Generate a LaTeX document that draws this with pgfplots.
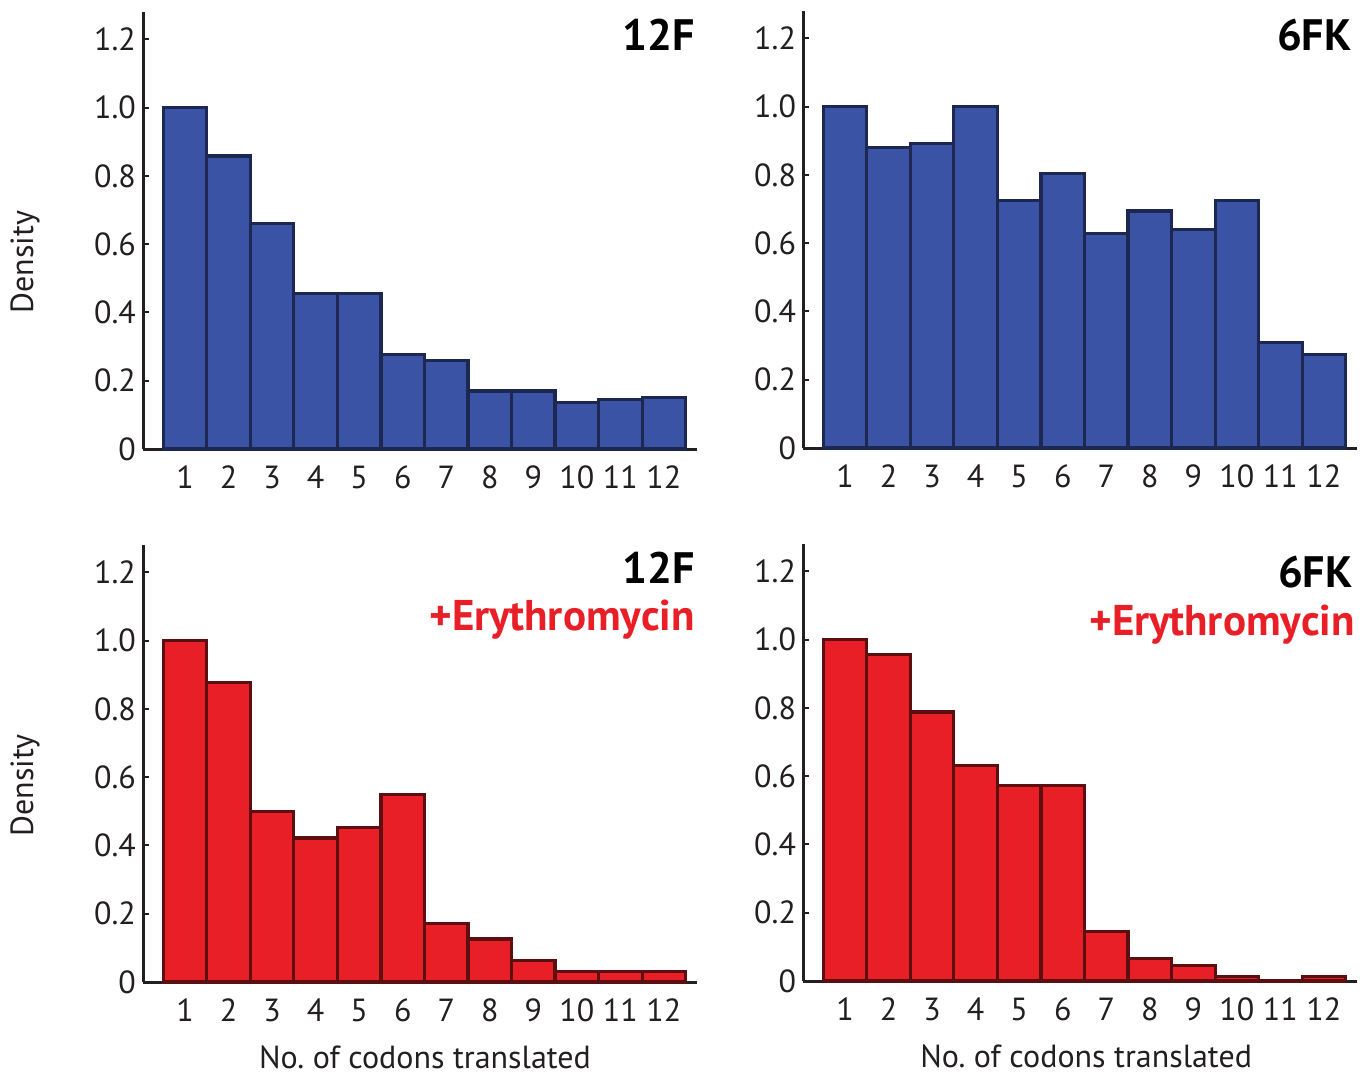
\documentclass[border=0pt]{standalone}
\usepackage{fontspec}
\setmainfont{PT Sans}
\usepackage{pgfplots}
\pgfplotsset{compat=1.18}
\frenchspacing
\definecolor{bfill}{RGB}{58,83,164}
\definecolor{bedge}{RGB}{28,40,82}
\definecolor{rfill}{RGB}{232,31,39}
\definecolor{redge}{RGB}{92,14,16}
\definecolor{ink}{RGB}{35,31,32}
\tikzset{
  ttl/.style={anchor=base east, inner sep=0pt, font=\fontsize{22}{22}\selectfont\bfseries},
  ery/.style={anchor=base east, inner sep=0pt, font=\fontsize{21.5}{21.5}\selectfont\bfseries, text=rfill},
}
\pgfplotsset{
  panel/.style={
    scale only axis, width=277pt, height=218.5pt,
    xmin=0.034, xmax=12.76, ymin=0, ymax=1.28,
    axis x line*=bottom, axis y line*=left,
    axis line style={line width=1.5pt, color=ink},
    ytick={0,0.2,0.4,0.6,0.8,1.0,1.2},
    yticklabels={0,0.2,0.4,0.6,0.8,1.0,1.2},
    xtick={1,2,3,4,5,6,7,8,9,10,11,12},
    xticklabels={1,2,3,4,5,6,7,8,9,10,11,12},
    /pgf/number format/assume math mode=true,
    tick label style={font=\fontsize{16}{16}\selectfont, text=ink},
    xticklabel style={yshift=-2pt},
    xtick style={draw=none},
    ytick style={line width=1pt, color=ink},
    tick align=inside, major tick length=3pt,
    ybar, bar width=1, 
    label style={font=\fontsize{16}{16}\selectfont, text=ink},
    clip=false,
  },
  blueb/.style={fill=bfill, draw=bedge, line width=1.6pt},
  redb/.style={fill=rfill, draw=redge, line width=1.6pt},
}
\begin{document}
\begin{tikzpicture}
\useasboundingbox (0,0) rectangle (684.5pt,-538pt);
% Top left
\begin{axis}[panel, at={(71.5pt,-224.5pt)}, anchor=south west,
  ylabel={Density}, ylabel style={at={(axis description cs:-0.213,0.428)}, anchor=center}]
\addplot[blueb] coordinates {(1,1.0) (2,0.858) (3,0.66) (4,0.455) (5,0.455) (6,0.276) (7,0.26) (8,0.17) (9,0.17) (10,0.136) (11,0.145) (12,0.152)};
\node[ttl] at ([xshift=-1pt]axis description cs:1,0.913) {12F};
\end{axis}
% Top right
\begin{axis}[panel, at={(401.5pt,-224pt)}, anchor=south west]
\addplot[blueb] coordinates {(1,1.0) (2,0.881) (3,0.891) (4,1.0) (5,0.726) (6,0.803) (7,0.629) (8,0.694) (9,0.64) (10,0.726) (11,0.31) (12,0.275)};
\node[ttl] at ([xshift=-2.5pt]axis description cs:1,0.91) {6FK};
\end{axis}
% Bottom left
\begin{axis}[panel, at={(71.5pt,-491pt)}, anchor=south west,
  ylabel={Density}, ylabel style={at={(axis description cs:-0.213,0.45)}, anchor=center},
  xlabel={No. of codons translated}, xlabel style={at={(axis description cs:0.509,-0.172)}, anchor=center}]
\addplot[redb] coordinates {(1,1.0) (2,0.878) (3,0.5) (4,0.422) (5,0.453) (6,0.549) (7,0.171) (8,0.126) (9,0.062) (10,0.03) (11,0.03) (12,0.03)};
\node[ttl] at ([xshift=-1pt]axis description cs:1,0.913) {12F};
\node[ery] at ([xshift=-1pt]axis description cs:1,0.805) {+Erythromycin};
\end{axis}
% Bottom right
\begin{axis}[panel, at={(401.5pt,-490.5pt)}, anchor=south west,
  xlabel={No. of codons translated}, xlabel style={at={(axis description cs:0.511,-0.172)}, anchor=center}]
\addplot[redb] coordinates {(1,1.0) (2,0.956) (3,0.788) (4,0.631) (5,0.573) (6,0.573) (7,0.146) (8,0.067) (9,0.046) (10,0.013) (11,0) (12,0.013)};
\node[ttl] at ([xshift=-2pt]axis description cs:1,0.90) {6FK};
\node[ery] at ([xshift=-1pt]axis description cs:1,0.79) {+Erythromycin};
\end{axis}
\end{tikzpicture}
\end{document}
